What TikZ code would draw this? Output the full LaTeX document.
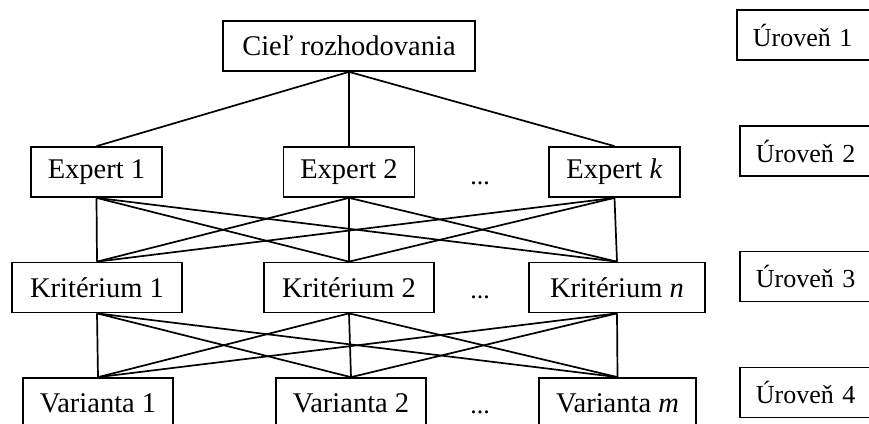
\documentclass[tikz,border=0pt]{standalone}
\usepackage{fontspec}
\setmainfont{Liberation Serif}
\usepackage{tikz}
\usetikzlibrary{positioning}
\usepackage{xcolor}

\begin{document}
\begin{tikzpicture}[
    x=1pt, y=-1pt,
    box/.style={rectangle, draw, line width=1.7pt, fill=white, minimum height=50pt, inner sep=0pt, font=\fontsize{28.5}{34}\selectfont, text centered},
    level/.style={box, anchor=west, align=left, text width=130pt, inner xsep=16pt, font=\fontsize{26}{31}\selectfont},
    link/.style={line width=1.7pt},
    dots/.style={anchor=base, font=\fontsize{26}{31}\selectfont}
]
\clip (0,0) rectangle (869,423);

% goal
\node[box, minimum width=252pt] (goal) at (349,46) {Cieľ rozhodovania};

% experts
\node[box, minimum width=131pt] (exp1) at (96.5,172) {Expert 1};
\node[box, minimum width=131pt] (exp2) at (349,172) {Expert 2};
\node[box, minimum width=131pt] (expk) at (614.5,172) {Expert \textit{k}};
\node[dots] (dotsE) at (480,184) {...};

% criteria
\node[box, minimum width=170pt] (krit1) at (97,287.5) {Kritérium 1};
\node[box, minimum width=170pt] (krit2) at (349,287.5) {Kritérium 2};
\node[box, minimum width=176pt] (kritn) at (617,287.5) {Kritérium \textit{n}};
\node[dots] (dotsK) at (480,298) {...};

% variants
\node[box, minimum width=150pt] (var1) at (98,403) {Varianta 1};
\node[box, minimum width=150pt] (var2) at (351,403) {Varianta 2};
\node[box, minimum width=157pt] (varm) at (617.5,403) {Varianta \textit{m}};
\node[dots] (dotsV) at (480,413) {...};

% levels
\node[level] (lev1) at (736,35) {Úroveň 1};
\node[level] (lev2) at (739,151) {Úroveň 2};
\node[level] (lev3) at (739,276.5) {Úroveň 3};
\node[level] (lev4) at (739,392.5) {Úroveň 4};

\draw[link] (goal.south) -- (exp1.north);
\draw[link] (goal.south) -- (exp2.north);
\draw[link] (goal.south) -- (expk.north);

\foreach \a in {exp1, exp2, expk}
  \foreach \b in {krit1, krit2, kritn}
    \draw[link] (\a.south) -- (\b.north);

\foreach \a in {krit1, krit2, kritn}
  \foreach \b in {var1, var2, varm}
    \draw[link] (\a.south) -- (\b.north);

\end{tikzpicture}
\end{document}
